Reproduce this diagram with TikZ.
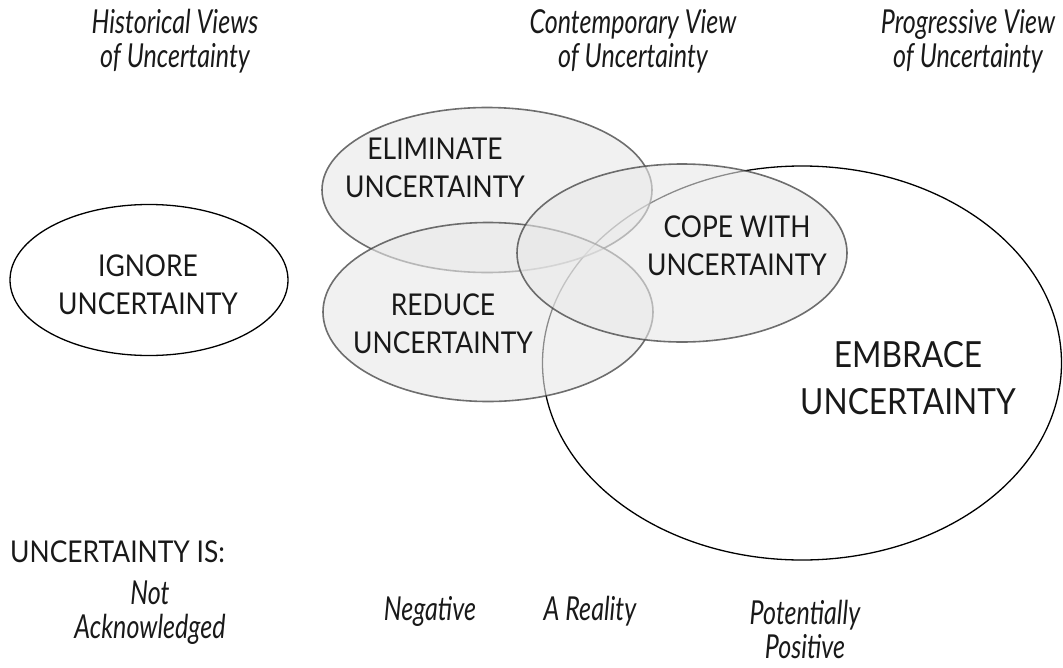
\documentclass[tikz,border=0pt]{standalone}
\usepackage{fontspec}
\setmainfont[FakeStretch=0.88]{Lato}
\newfontfamily\viewfont[FakeStretch=0.76]{Lato}
\usetikzlibrary{shapes.geometric}

\begin{document}
\begin{tikzpicture}[x=1pt,y=-1pt,
    every node/.style={inner sep=0pt,align=center,text=black!90},
    lbl/.style={font=\fontsize{30}{38}\selectfont},
    biglbl/.style={font=\fontsize{36}{47}\selectfont},
    view/.style={font=\fontsize{33}{34}\viewfont\itshape},
    oval/.style={ellipse,draw=black,line width=1.3pt},
    greyoval/.style={ellipse,draw=black!75,line width=1.6pt,draw opacity=.75,
      fill=gray!18,fill opacity=.6}]
  \useasboundingbox (0,0) rectangle (1063,667);

  % the ovals
  \node[oval,minimum width=519,minimum height=394] (embrace) at (802,363) {};
  \node[oval,minimum width=278,minimum height=151] (ignore) at (149,280) {};
  \node[greyoval,minimum width=330,minimum height=165] (elim) at (487,190) {};
  \node[greyoval,minimum width=330,minimum height=179] (reduce) at (488,312) {};
  \node[greyoval,minimum width=330,minimum height=178] (cope) at (682,253) {};

  % their labels
  \node[lbl] (tignore) at (148,285) {IGNORE\\UNCERTAINTY};
  \node[lbl] (telim) at (435,168) {ELIMINATE\\UNCERTAINTY};
  \node[lbl] (treduce) at (443,324) {REDUCE\\UNCERTAINTY};
  \node[lbl] (tcope) at (737,246) {COPE WITH\\UNCERTAINTY};
  \node[biglbl] (tembrace) at (908,378) {EMBRACE\\UNCERTAINTY};

  % views on top
  \node[view] (vhist) at (175,41) {Historical Views\\of Uncertainty};
  \node[view] (vcont) at (633,41) {Contemporary View\\of Uncertainty};
  \node[view] (vprog) at (968,41) {Progressive View\\of Uncertainty};

  % bottom row
  \node[lbl,anchor=west] (isrow) at (10,552) {UNCERTAINTY IS:};
  \node[view] (pnot) at (150,613) {Not\\Acknowledged};
  \node[view] (pneg) at (430,611) {Negative};
  \node[view] (preal) at (590,611) {A Reality};
  \node[view] (ppos) at (805,629) {Potentially\\Positive};
\end{tikzpicture}
\end{document}
